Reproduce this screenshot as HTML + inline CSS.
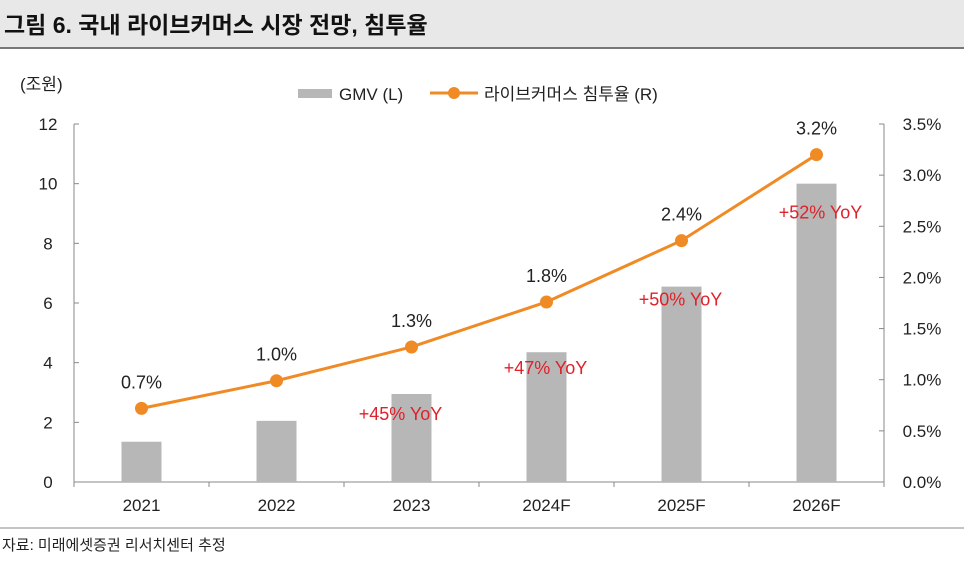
<!DOCTYPE html>
<html><head><meta charset="utf-8"><style>
body{margin:0;background:#fff;width:964px;height:556px;overflow:hidden;font-family:"Liberation Sans","Noto Sans CJK KR",sans-serif}
</style></head><body>
<svg width="964" height="556" xmlns="http://www.w3.org/2000/svg" font-family="Liberation Sans, Noto Sans CJK KR, sans-serif">
<rect x="0" y="0" width="964" height="47" fill="#e8e8e8"/>
<line x1="0" y1="48" x2="964" y2="48" stroke="#777" stroke-width="2"/>
<text x="4" y="33" font-size="23" font-weight="bold" fill="#111">그림 6. 국내 라이브커머스 시장 전망, 침투율</text>
<text x="20" y="90" font-size="17" fill="#222">(조원)</text>
<g>
<rect x="298" y="89" width="34" height="9" fill="#b7b7b7"/>
<text x="339" y="100" font-size="17" fill="#222">GMV (L)</text>
<line x1="430" y1="93" x2="478" y2="93" stroke="#f08a24" stroke-width="3"/>
<circle cx="454" cy="93" r="6" fill="#f08a24"/>
<text x="484" y="100" font-size="17" fill="#222">라이브커머스 침투율 (R)</text>
</g>
<g id="chart"></g>
<line x1="0" y1="528" x2="964" y2="528" stroke="#888" stroke-width="1"/>
<text x="2" y="550" font-size="15" fill="#222">자료: 미래에셋증권 리서치센터 추정</text>
</svg>
<script>
const categories=["2021","2022","2023","2024F","2025F","2026F"];
const gmv=[1.35,2.05,2.95,4.35,6.55,10.0];
const rate=[0.72,0.99,1.32,1.76,2.36,3.2];
const rateLabels=["0.7%","1.0%","1.3%","1.8%","2.4%","3.2%"];
const yoyLabels=["","","+45% YoY","+47% YoY","+50% YoY","+52% YoY"];
const leftTicks=[0,2,4,6,8,10,12];
const rightTicks=[0,0.5,1,1.5,2,2.5,3,3.5];
const NS="http://www.w3.org/2000/svg";
const g=document.getElementById('chart');
const X0=74,X1=884,Y0=482,Y1=124;
const band=(X1-X0)/categories.length;
const xc=i=>X0+band*(i+0.5);
const yL=v=>Y0-(v/12)*(Y0-Y1);
const yR=v=>Y0-(v/3.5)*(Y0-Y1);
const yoyDx=[0,0,-11,-1,-1,4];
const yoyDy=[0,0,26,22,19,35];
function mk(t,a,txt){const e=document.createElementNS(NS,t);for(const k in a)e.setAttribute(k,a[k]);if(txt!==undefined)e.textContent=txt;g.appendChild(e);return e;}
mk('line',{x1:X0,y1:Y1,x2:X0,y2:Y0,stroke:'#888'});
mk('line',{x1:X1,y1:Y1,x2:X1,y2:Y0,stroke:'#888'});
mk('line',{x1:X0,y1:Y0,x2:X1,y2:Y0,stroke:'#888'});
for(let i=0;i<=categories.length;i++)mk('line',{x1:X0+band*i,y1:Y0,x2:X0+band*i,y2:Y0+5,stroke:'#888'});
leftTicks.forEach(v=>{mk('line',{x1:X0,y1:yL(v),x2:X0+5,y2:yL(v),stroke:'#888'});
 const t=mk('text',{x:48,y:yL(v)+6,'font-size':17,'text-anchor':'middle',fill:'#222'},String(v));
 
 });
rightTicks.forEach(v=>{mk('line',{x1:X1-5,y1:yR(v),x2:X1,y2:yR(v),stroke:'#888'});
 const t=mk('text',{x:922,y:yR(v)+6,'font-size':17,'text-anchor':'middle',fill:'#222'},v.toFixed(1)+'%');
 
 });
categories.forEach((c,i)=>{
 const b=mk('rect',{x:xc(i)-20,y:yL(gmv[i]),width:40,height:Y0-yL(gmv[i]),fill:'#b7b7b7'});
 
 
 const t=mk('text',{x:xc(i),y:511,'font-size':17,'text-anchor':'middle',fill:'#222'},c);
 
 
});
const pts=rate.map((v,i)=>xc(i)+','+yR(v)).join(' ');
const pl=mk('polyline',{points:pts,fill:'none',stroke:'#f08a24','stroke-width':3});


rate.forEach((v,i)=>{
 const c=mk('circle',{cx:xc(i),cy:yR(v),r:6.5,fill:'#f08a24'});
 
 
 const t=mk('text',{x:xc(i),y:yR(v)-20,'font-size':18,'text-anchor':'middle',fill:'#222'},rateLabels[i]);
 
 
 if(yoyLabels[i]){
  const yy=mk('text',{x:xc(i)+yoyDx[i],y:yL(gmv[i])+yoyDy[i],'font-size':18,'text-anchor':'middle',fill:'#e0202a'},yoyLabels[i]);
  
  
 }
});
</script>
</body></html>
